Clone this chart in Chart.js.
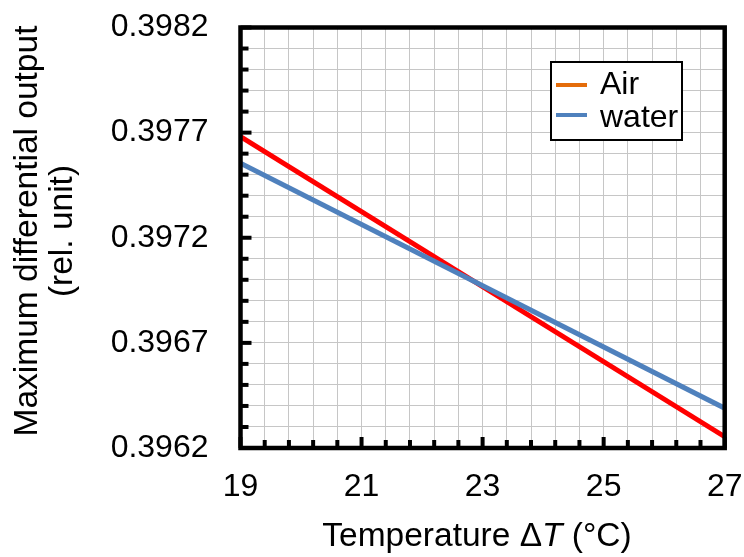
<!DOCTYPE html>
<html>
<head>
<meta charset="utf-8">
<script src="https://cdn.jsdelivr.net/npm/chart.js@4.4.0/dist/chart.umd.min.js"></script>
<style>
    html, body { margin: 0; padding: 0; background: #fff; }
    #chart { display: block; }
</style>
</head>
<body>
<canvas id="chart" width="744" height="557"></canvas>
<script>
// --- DATA ---
const temps = [19, 27];
const airValues = [0.397681, 0.396254];
const waterValues = [0.397554, 0.396389];

const xTickLabels = [19, 21, 23, 25, 27];
const yTickLabels = ['0.3962', '0.3967', '0.3972', '0.3977', '0.3982'];
const xMinorStep = 0.4;
const yMinorStep = 0.0001;

const FONT = '"Liberation Sans", Arial, sans-serif';

function isMajor(v, list) {
    return list.some(l => Math.abs(Number(l) - v) < 1e-9);
}

function buildTicks(min, max, step) {
    const out = [];
    const n = Math.round((max - min) / step);
    for (let i = 0; i <= n; i++) out.push({ value: +(min + i * step).toFixed(6) });
    return out;
}

// frame, inner tick marks, axis titles and legend
const decorPlugin = {
    id: 'decor',
    afterDatasetsDraw(chart) {
        const ctx = chart.ctx;
        const area = chart.chartArea;
        const xs = chart.scales.x;
        const ys = chart.scales.y;
        ctx.save();

        // tick marks pointing inward
        ctx.strokeStyle = '#000';
        ctx.lineWidth = 4;
        xs.ticks.forEach(t => {
            const px = xs.getPixelForValue(t.value);
            const len = isMajor(t.value, xTickLabels) ? 11 : 8;
            ctx.beginPath();
            ctx.moveTo(px, area.bottom);
            ctx.lineTo(px, area.bottom - len);
            ctx.stroke();
        });
        ys.ticks.forEach(t => {
            const py = ys.getPixelForValue(t.value);
            const len = isMajor(t.value, yTickLabels) ? 11 : 8;
            ctx.beginPath();
            ctx.moveTo(area.left, py);
            ctx.lineTo(area.left + len, py);
            ctx.stroke();
        });

        // frame
        ctx.lineWidth = 4.5;
        ctx.strokeRect(area.left, area.top, area.right - area.left, area.bottom - area.top);

        // legend
        ctx.lineWidth = 2;
        ctx.fillStyle = '#fff';
        ctx.fillRect(551, 62, 131, 78);
        ctx.strokeRect(551, 62, 131, 78);
        ctx.lineWidth = 4;
        ctx.strokeStyle = '#E46C0A';
        ctx.beginPath(); ctx.moveTo(556, 85); ctx.lineTo(587, 85); ctx.stroke();
        ctx.strokeStyle = '#4F81BD';
        ctx.beginPath(); ctx.moveTo(556, 115); ctx.lineTo(587, 115); ctx.stroke();
        ctx.fillStyle = '#000';
        ctx.font = '32px ' + FONT;
        ctx.textAlign = 'left';
        ctx.textBaseline = 'alphabetic';
        ctx.fillText('Air', 600, 94);
        ctx.fillText('water', 600, 127);

        // x title with italic T
        const parts = [
            ['Temperature \u0394', 'normal'],
            ['T', 'italic'],
            [' (\u00B0C)', 'normal']
        ];
        const font = s => (s === 'italic' ? 'italic ' : '') + '33.5px ' + FONT;
        let total = 0;
        parts.forEach(p => {
            ctx.font = font(p[1]);
            total += ctx.measureText(p[0]).width;
        });
        let x = 477 - total / 2;
        parts.forEach(p => {
            ctx.font = font(p[1]);
            ctx.fillText(p[0], x, 546);
            x += ctx.measureText(p[0]).width;
        });

        // y title, two lines
        ctx.translate(0, 231);
        ctx.rotate(-Math.PI / 2);
        ctx.textAlign = 'center';
        ctx.font = '33.5px ' + FONT;
        ctx.fillText('Maximum differential output', 0, 37);
        ctx.fillText('(rel. unit)', 0, 72);
        ctx.restore();
    }
};

new Chart(document.getElementById('chart'), {
    type: 'line',
    data: {
        datasets: [
            {
                label: 'Air',
                data: temps.map((t, i) => ({ x: t, y: airValues[i] })),
                borderColor: '#FF0000',
                borderWidth: 5,
                pointRadius: 0,
                tension: 0,
                order: 1
            },
            {
                label: 'water',
                data: temps.map((t, i) => ({ x: t, y: waterValues[i] })),
                borderColor: '#4F81BD',
                borderWidth: 5,
                pointRadius: 0,
                tension: 0,
                order: 0
            }
        ]
    },
    options: {
        responsive: false,
        animation: false,
        layout: { padding: { top: 27.5, right: 19.3, left: 0, bottom: 0 } },
        plugins: {
            legend: { display: false },
            tooltip: { enabled: false }
        },
        scales: {
            x: {
                type: 'linear',
                min: 19,
                max: 27,
                afterBuildTicks: s => { s.ticks = buildTicks(19, 27, xMinorStep); },
                afterFit: s => {
                    s.height = 109;
                    s.paddingLeft = 0;
                    s.paddingRight = 0;
                },
                grid: { color: '#c6c6c6', lineWidth: 1, drawTicks: false },
                border: { display: false },
                ticks: {
                    autoSkip: false,
                    maxRotation: 0,
                    padding: 20,
                    color: '#000',
                    font: { family: FONT, size: 32 },
                    callback: v => isMajor(v, xTickLabels) ? String(Math.round(v)) : ''
                }
            },
            y: {
                type: 'linear',
                min: 0.3962,
                max: 0.3982,
                afterBuildTicks: s => { s.ticks = buildTicks(0.3962, 0.3982, yMinorStep); },
                afterFit: s => {
                    s.width = 240.5;
                    s.paddingTop = 0;
                    s.paddingBottom = 0;
                },
                grid: { color: '#c6c6c6', lineWidth: 1, drawTicks: false },
                border: { display: false },
                ticks: {
                    autoSkip: false,
                    padding: 32,
                    color: '#000',
                    font: { family: FONT, size: 32 },
                    callback: v => {
                        const l = yTickLabels.find(t => Math.abs(Number(t) - v) < 1e-9);
                        return l || '';
                    }
                }
            }
        }
    },
    plugins: [decorPlugin]
});
</script>
</body>
</html>
